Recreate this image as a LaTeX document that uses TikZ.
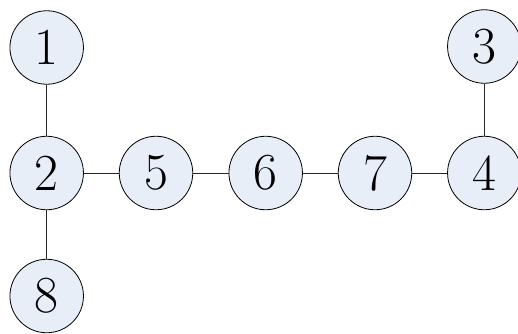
\documentclass[tikz,border=0pt]{standalone}
\usepackage{fontspec}
\definecolor{nodefill}{HTML}{E8EEF8}
\tikzset{
  vtx/.style={circle, draw=black, line width=0.8pt, fill=nodefill, minimum size=73.5pt, inner sep=0pt, font=\fontsize{52}{52}\selectfont},
  edge/.style={draw=black!85, line width=0.9pt}
}
\begin{document}
\begin{tikzpicture}[x=1pt,y=-1pt]
\useasboundingbox (0,0) rectangle (518,333);
\node[vtx] (n1) at (46.7,47.5) {1};
\node[vtx] (n2) at (46.7,173) {2};
\node[vtx] (n8) at (46.7,296) {8};
\node[vtx] (n5) at (156,173) {5};
\node[vtx] (n6) at (265.7,173) {6};
\node[vtx] (n7) at (375,173) {7};
\node[vtx] (n4) at (484.3,173) {4};
\node[vtx] (n3) at (484.3,46.5) {3};
\draw[edge] (n1) -- (n2);
\draw[edge] (n2) -- (n8);
\draw[edge] (n2) -- (n5);
\draw[edge] (n5) -- (n6);
\draw[edge] (n6) -- (n7);
\draw[edge] (n7) -- (n4);
\draw[edge] (n4) -- (n3);
\end{tikzpicture}
\end{document}
